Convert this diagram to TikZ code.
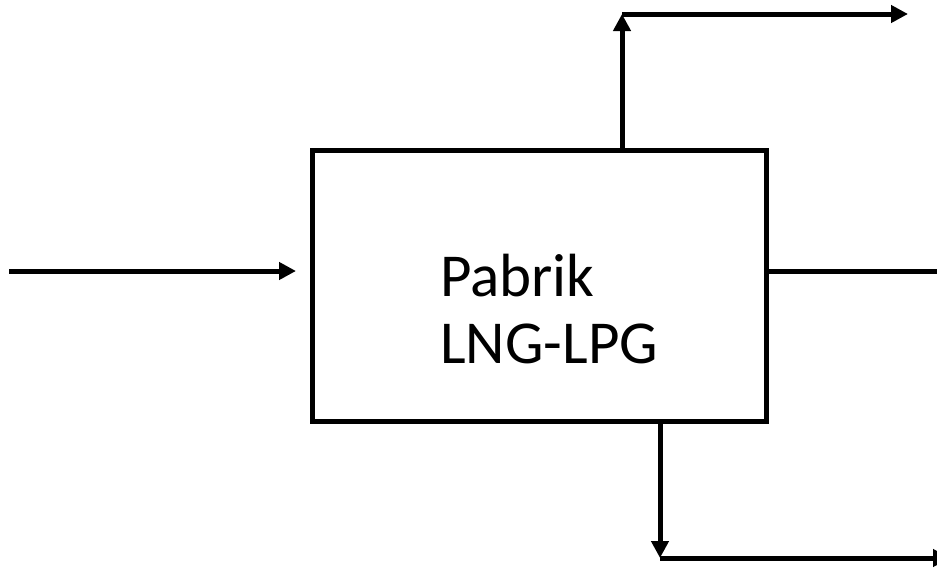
\documentclass[tikz,border=0pt]{standalone}
\usepackage{fontspec}
\setmainfont{Carlito}
\usetikzlibrary{arrows.meta}
\begin{document}
\begin{tikzpicture}[x=1pt,y=-1pt,
  flow/.style={line width=5pt},
  arr/.style={flow,-{Triangle[length=17pt,width=17pt]}},
  lbl/.style={anchor=base west,inner sep=0pt,font=\fontsize{61}{67}\selectfont}]
\useasboundingbox (0,0) rectangle (937,568);
\node[draw,line width=5pt,minimum width=454pt,minimum height=271pt,inner sep=0pt] (box) at (539,285.5) {};
\node[lbl] (t1) at (440,296) {Pabrik};
\node[lbl] (t2) at (440,363) {LNG-LPG};
\coordinate (inS) at (9,271);
\coordinate (inE) at (box.west|-inS);
\coordinate (outE) at (937,271);
\coordinate (upB) at (622,150);
\coordinate (upT) at (622,14);
\coordinate (upE) at (908,14);
\coordinate (dnB) at (660,421);
\coordinate (dnT) at (660,558);
\coordinate (dnE) at (950,558);
\draw[arr,shorten >=13.5pt] (inS) -- (inE);
\draw[flow] (box.east|-outE) -- (outE);
\draw[arr] (upB) -- (upT);
\draw[arr] (upT) -- (upE);
\draw[arr] (dnB) -- (dnT);
\draw[arr] (dnT) -- (dnE);
\end{tikzpicture}
\end{document}
